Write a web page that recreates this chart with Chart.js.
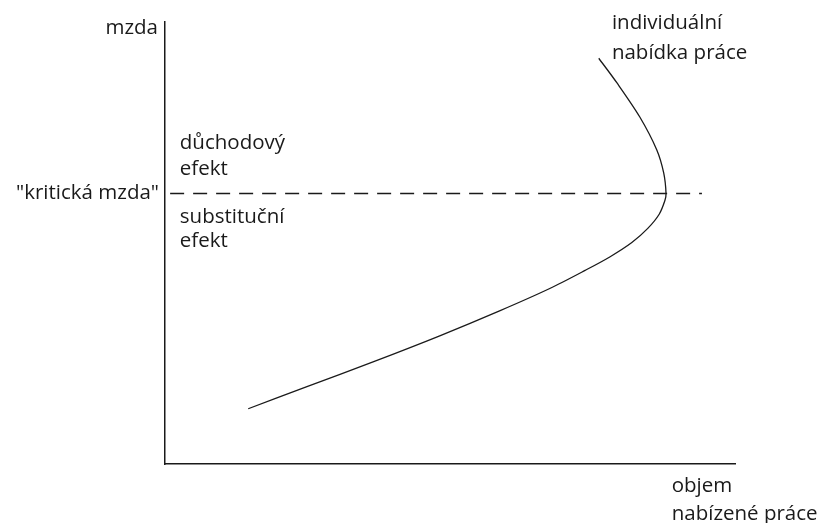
<!DOCTYPE html>
<html>
<head>
  <meta charset="UTF-8">
  <title>Individuální nabídka práce</title>
  <script src="https://cdn.jsdelivr.net/npm/chart.js"></script>
  <style>
    body { margin: 0; background: #fff; }
    #wrap { width: 824px; height: 523px; }
  </style>
</head>
<body>
  <div id="wrap"><canvas id="laborChart"></canvas></div>

  <script>
    // supply curve (x = objem práce, y = mzda), arbitrary units 0..100
    const supplyX = [14.6, 24.9, 36.5, 48.2, 58.8, 67.5, 73.7, 78.1, 81.9, 84.7, 86.7, 87.7, 87.9, 87.5, 86.3, 83.3, 79.3, 76.1];
    const supplyY = [12.5, 17.5, 23.1, 29.0, 34.7, 39.7, 43.8, 46.9, 50.1, 53.3, 56.5, 59.6, 61.2, 65.8, 71.0, 78.5, 86.2, 91.8];

    // "kritická mzda" level
    const criticalWage = 61.2;
    const criticalFromX = 0.9;
    const criticalToX = 94.2;

    const axisLabelY = 'mzda';
    const axisLabelX = ['objem', 'nabízené práce'];
    const criticalLabel = '"kritická mzda"';
    const curveLabel = ['individuální', 'nabídka práce'];
    const incomeLabel = ['důchodový', 'efekt'];
    const substLabel = ['substituční', 'efekt'];

    const supplyPoints = supplyX.map((x, i) => ({ x: x, y: supplyY[i] }));
    const criticalPoints = [
      { x: criticalFromX, y: criticalWage },
      { x: criticalToX, y: criticalWage }
    ];

    const textColor = '#1a1a1a';
    const font = '20.5px "Open Sans", sans-serif';

    // draw the text annotations at data positions
    const labelsPlugin = {
      id: 'labels',
      afterDraw(chart) {
        const ctx = chart.ctx;
        const xs = chart.scales.x;
        const ys = chart.scales.y;
        const left = chart.chartArea.left;
        ctx.save();
        ctx.fillStyle = textColor;
        ctx.font = font;
        ctx.textBaseline = 'middle';

        ctx.textAlign = 'right';
        ctx.fillText(axisLabelY, left - 7, ys.getPixelForValue(98.6));
        ctx.fillText(criticalLabel, left - 6, ys.getPixelForValue(criticalWage));

        ctx.textAlign = 'left';
        const block = (lines, x, y, step) => {
          lines.forEach((t, i) => ctx.fillText(t, xs.getPixelForValue(x), ys.getPixelForValue(y) + i * step));
        };
        block(incomeLabel, 2.6, 72.6, 26);
        block(substLabel, 2.6, 55.8, 24);
        block(curveLabel, 78.4, 99.8, 30);
        ctx.fillText(axisLabelX[0], xs.getPixelForValue(88.9), chart.chartArea.bottom + 22);
        ctx.fillText(axisLabelX[1], xs.getPixelForValue(88.9), chart.chartArea.bottom + 50);
        ctx.restore();
      }
    };

    new Chart(document.getElementById('laborChart'), {
      type: 'scatter',
      data: {
        datasets: [{
          label: 'individuální nabídka práce',
          data: supplyPoints,
          showLine: true,
          borderColor: '#1a1a1a',
          borderWidth: 1.3,
          pointRadius: 0,
          tension: 0.3
        }, {
          label: 'kritická mzda',
          data: criticalPoints,
          showLine: true,
          borderColor: '#1a1a1a',
          borderWidth: 1.3,
          borderDash: [14, 9],
          pointRadius: 0
        }]
      },
      options: {
        responsive: true,
        maintainAspectRatio: false,
        animation: false,
        layout: {
          padding: { left: 165, right: 89, top: 22, bottom: 59 }
        },
        plugins: {
          legend: { display: false },
          tooltip: { enabled: false }
        },
        scales: {
          x: {
            min: 0,
            max: 100,
            grid: { display: false, drawTicks: false },
            border: { display: true, color: '#1a1a1a', width: 1.5 },
            ticks: { display: false }
          },
          y: {
            min: 0,
            max: 100,
            grid: { display: false, drawTicks: false },
            border: { display: true, color: '#1a1a1a', width: 1.5 },
            ticks: { display: false }
          }
        }
      },
      plugins: [labelsPlugin]
    });
  </script>
</body>
</html>
